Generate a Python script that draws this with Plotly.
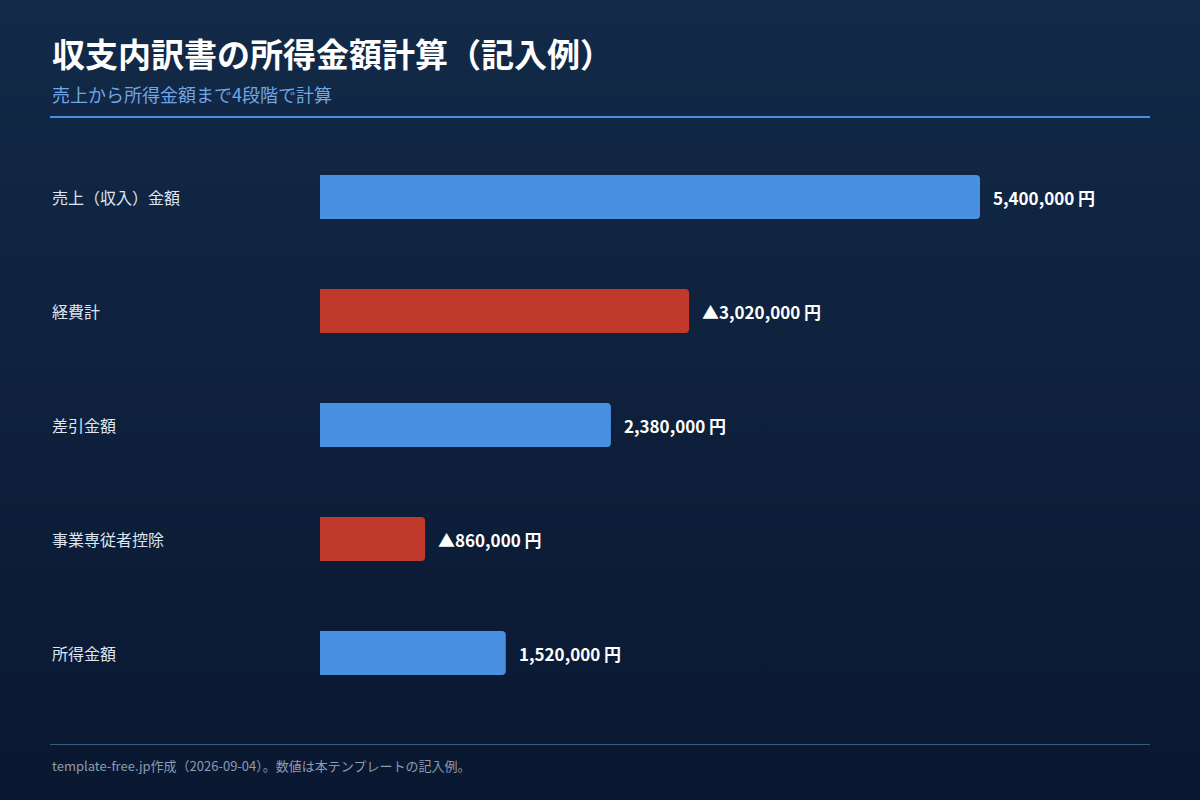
import base64
import plotly.graph_objects as go

categories = ["売上（収入）金額", "経費計", "差引金額", "事業専従者控除", "所得金額"]
values = [5400000, 3020000, 2380000, 860000, 1520000]
is_deduction = [False, True, False, True, False]

title = "収支内訳書の所得金額計算（記入例）"
subtitle = "売上から所得金額まで4段階で計算"
footer = "template-free.jp作成（2026-09-04）。数値は本テンプレートの記入例。"

BLUE = "#4a90e2"
RED = "#c0392b"
FONT = "Noto Sans CJK JP"

W, H = 1200, 800
L, R, T, B = 320, 50, 140, 90
pw, ph = W - L - R, H - T - B

colors = [RED if d else BLUE for d in is_deduction]
labels = [("▲" if d else "") + f"{v:,} 円" for v, d in zip(values, is_deduction)]

fig = go.Figure(go.Bar(
    x=values, y=categories, orientation="h",
    marker=dict(color=colors, line=dict(width=0)),
    width=0.386, hoverinfo="skip",
))

xmax = max(values) * pw / 660

svg = ('<svg xmlns="http://www.w3.org/2000/svg" width="1200" height="800">'
       '<defs><linearGradient id="g" x1="0" y1="0" x2="0" y2="1">'
       '<stop offset="0" stop-color="#122a48"/><stop offset="1" stop-color="#0a1731"/>'
       '</linearGradient></defs><rect width="1200" height="800" fill="url(#g)"/></svg>')
src = "data:image/svg+xml;base64," + base64.b64encode(svg.encode()).decode()

def px(x):
    return (x - L) / pw

def py(y):
    return 1 - (y - T) / ph

annotations = []
for c in categories:
    annotations.append(dict(x=px(50), y=c, xref="paper", yref="y", text=c,
                            showarrow=False, xanchor="left", yanchor="middle",
                            font=dict(family=FONT, size=16, color="#dfe6ef")))
for c, v, t in zip(categories, values, labels):
    annotations.append(dict(x=v, y=c, xref="x", yref="y", text=f"<b>{t}</b>",
                            showarrow=False, xanchor="left", yanchor="middle", xshift=11,
                            font=dict(family=FONT, size=17, color="#ffffff")))
annotations += [
    dict(x=px(50), y=py(53), xref="paper", yref="paper", text=f"<b>{title}</b>",
         showarrow=False, xanchor="left", yanchor="middle",
         font=dict(family=FONT, size=33, color="#ffffff")),
    dict(x=px(50), y=py(94), xref="paper", yref="paper", text=subtitle,
         showarrow=False, xanchor="left", yanchor="middle",
         font=dict(family=FONT, size=18, color="#6ea6e6")),
    dict(x=px(50), y=py(765), xref="paper", yref="paper", text=footer,
         showarrow=False, xanchor="left", yanchor="middle",
         font=dict(family=FONT, size=13, color="#8e9bb0")),
]

shapes = [
    dict(type="line", xref="paper", yref="paper", x0=px(50), x1=px(1150), y0=py(117), y1=py(117),
         line=dict(color=BLUE, width=2)),
    dict(type="line", xref="paper", yref="paper", x0=px(50), x1=px(1150), y0=py(744.5), y1=py(744.5),
         line=dict(color="#3c5a80", width=1)),
]

fig.update_layout(
    width=W, height=H,
    margin=dict(l=L, r=R, t=T, b=B),
    paper_bgcolor="#0e2040", plot_bgcolor="rgba(0,0,0,0)",
    barcornerradius=4,
    showlegend=False,
    xaxis=dict(range=[0, xmax], visible=False, fixedrange=True),
    yaxis=dict(autorange="reversed", visible=False, fixedrange=True),
    annotations=annotations, shapes=shapes,
    images=[dict(source=src, xref="paper", yref="paper", x=px(0), y=py(0),
                 sizex=W / pw, sizey=H / ph, sizing="stretch", layer="below",
                 xanchor="left", yanchor="top")],
    font=dict(family=FONT),
)

fig.write_html("out.html", config={"displayModeBar": False},
               post_script="document.body.style.margin='0';document.body.style.overflow='hidden';")
